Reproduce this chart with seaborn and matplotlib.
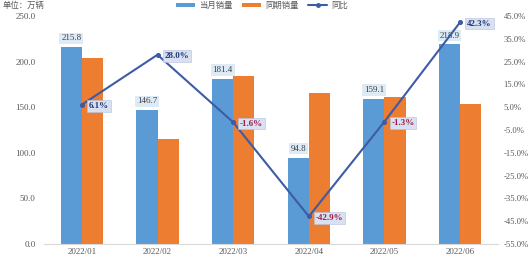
import matplotlib
matplotlib.use("Agg")
import matplotlib.pyplot as plt
import seaborn as sns
import pandas as pd
from matplotlib.patches import Patch
from matplotlib.lines import Line2D

months = ["2022/01", "2022/02", "2022/03", "2022/04", "2022/05", "2022/06"]
current_sales = [215.8, 146.7, 181.4, 94.8, 159.1, 218.9]
prior_sales = [203.4, 114.6, 184.3, 166.0, 161.2, 153.8]
yoy_pct = [6.1, 28.0, -1.6, -42.9, -1.3, 42.3]
series_names = ["当月销量", "同期销量", "同比"]
unit_label = "单位：万辆"

sns.set_theme(style="white")
plt.rcParams["font.family"] = ["Liberation Serif", "Noto Sans CJK SC"]

BLUE = "#5B9BD5"
ORANGE = "#ED7D31"
LINE = "#3D5BA6"
GRAY = "#595959"

df = pd.DataFrame({
    "month": months * 2,
    "sales": current_sales + prior_sales,
    "series": [series_names[0]] * 6 + [series_names[1]] * 6,
})

fig = plt.figure(figsize=(5.3, 2.56), dpi=100)
ax = fig.add_axes([44 / 530, 12 / 256, (498 - 44) / 530, (244 - 16) / 256])

sns.barplot(data=df, x="month", y="sales", hue="series", palette=[BLUE, ORANGE],
            width=0.56, gap=0, ax=ax, legend=False, saturation=1, edgecolor="none")
ax.set_ylim(0, 250)
ax.set_xlim(-0.5, 5.5)
ax.set_yticks([0, 50, 100, 150, 200, 250])
ax.set_yticklabels([f"{v:.1f}" for v in [0, 50, 100, 150, 200, 250]])
ax.set_xlabel("")
ax.set_ylabel("")
for s in ["top", "right", "left"]:
    ax.spines[s].set_visible(False)
ax.spines["bottom"].set_color("#D9D9D9")
ax.spines["bottom"].set_linewidth(0.8)
ax.tick_params(axis="both", length=0, labelsize=6.5, colors=GRAY)
ax.tick_params(axis="y", pad=6)
ax.tick_params(axis="x", pad=3)

# bar value labels
for i, v in enumerate(current_sales):
    ax.annotate(f"{v:.1f}", xy=(i - 0.14, v), xytext=(0, 3.5), textcoords="offset points",
                ha="center", va="bottom", fontsize=6.5, color="#404040",
                bbox=dict(boxstyle="square,pad=0.2", fc="#DDEBF7", ec="none"))

ax2 = ax.twinx()
line_df = pd.DataFrame({"month": months, "yoy": yoy_pct})
sns.pointplot(data=line_df, x="month", y="yoy", color=LINE, markers="o",
              linestyles="-", ax=ax2, markersize=2.5, linewidth=1.5)
ax2.set_xlim(-0.5, 5.5)
ax2.set_ylim(-55, 45)
ticks2 = list(range(-55, 46, 10))
ax2.set_yticks(ticks2)
ax2.set_yticklabels([f"{t:.1f}%" for t in ticks2])
ax2.set_ylabel("")
ax2.set_xlabel("")
for s in ["top", "right", "left", "bottom"]:
    ax2.spines[s].set_visible(False)
ax2.tick_params(axis="y", length=0, labelsize=6.2, colors=GRAY, pad=4)

for i, v in enumerate(yoy_pct):
    col = "#1F3A78" if v >= 0 else "#9C1F4B"
    ax2.annotate(f"{v:.1f}%", xy=(i, v), xytext=(5, -1), textcoords="offset points",
                 ha="left", va="center", fontsize=6.5, color=col, fontweight="bold",
                 bbox=dict(boxstyle="square,pad=0.2", fc="#D9E0F2", ec="#B4C0E0", lw=0.4))

fig.text(3 / 530, 1 - 6 / 256, unit_label, fontsize=6, color=GRAY, ha="left", va="center")

handles = [
    Patch(facecolor=BLUE, edgecolor="none", label=series_names[0]),
    Patch(facecolor=ORANGE, edgecolor="none", label=series_names[1]),
    Line2D([0], [0], color=LINE, lw=1.5, marker="o", markersize=2.5, label=series_names[2]),
]
fig.legend(handles=handles, loc="center", bbox_to_anchor=(262 / 530, 1 - 6 / 256), ncol=3,
           frameon=False, fontsize=6, handlelength=2.2, handleheight=0.45, columnspacing=1.2,
           handletextpad=0.5, labelcolor=GRAY, borderaxespad=0, borderpad=0)

fig.savefig("out.png", dpi=100)
